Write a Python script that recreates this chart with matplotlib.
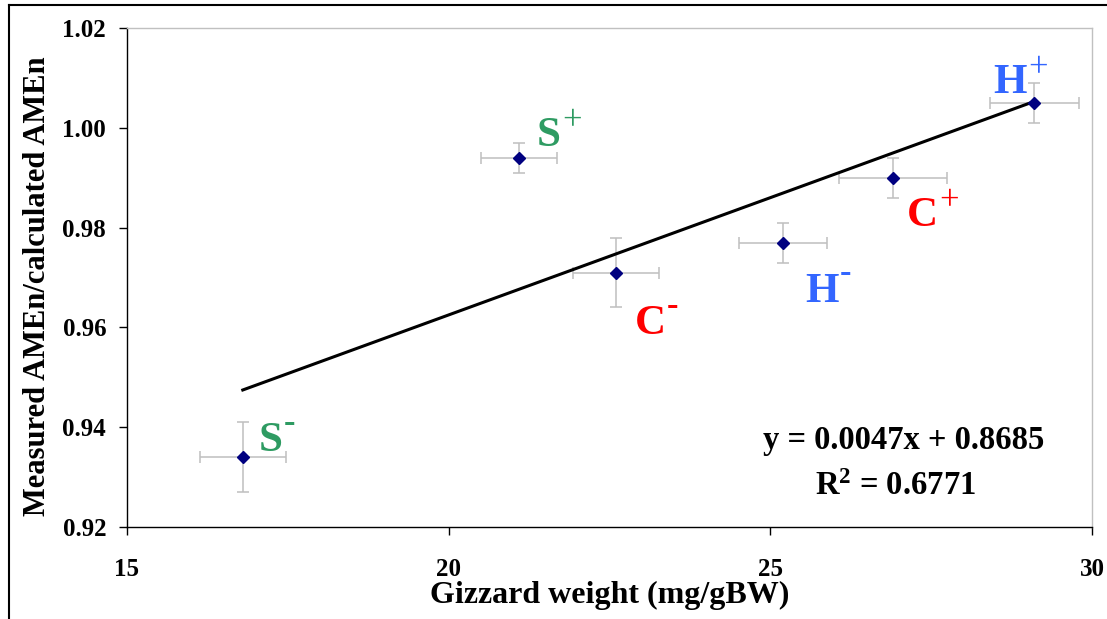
import matplotlib
matplotlib.use("Agg")
import matplotlib.pyplot as plt
from matplotlib.lines import Line2D
import numpy as np

# data
groups = ["S-", "S+", "C-", "H-", "C+", "H+"]
gizzard = [16.8, 21.1, 22.6, 25.2, 26.9, 29.1]
gizzard_err = [0.67, 0.59, 0.67, 0.68, 0.84, 0.69]
ratio = [0.934, 0.994, 0.971, 0.977, 0.990, 1.005]
ratio_err = [0.007, 0.003, 0.007, 0.004, 0.004, 0.004]
slope, intercept, r2 = 0.0047, 0.8685, 0.6771

xticks = [15, 20, 25, 30]
yticks = [0.92, 0.94, 0.96, 0.98, 1.00, 1.02]

# label colour / offset of the baseline in points for each group
label_color = ["#2E9B62", "#2E9B62", "#FF0000", "#3366FF", "#FF0000", "#3366FF"]
label_offset = [(11.5, 4.3), (12.5, 8.6), (13.5, -44.5), (15.5, -42.5), (10.5, -35), (-29.5, 7.2)]

plt.rcParams["font.family"] = "Liberation Serif"
plt.rcParams["font.weight"] = "bold"
plt.rcParams["mathtext.fontset"] = "custom"
plt.rcParams["mathtext.rm"] = "Liberation Serif:bold"
plt.rcParams["mathtext.it"] = "Liberation Serif:bold"
plt.rcParams["mathtext.bf"] = "Liberation Serif:bold"

fig = plt.figure(figsize=(11.07, 6.19), dpi=100)
ax = fig.add_axes([0.1147, 0.1486, 0.8718, 0.8062])

ax.errorbar(gizzard, ratio, xerr=gizzard_err, yerr=ratio_err, fmt="none",
            ecolor="#BFBFBF", elinewidth=1.1, capsize=4, capthick=1.1, zorder=2)
ax.plot(gizzard, ratio, "D", color="#000080", markersize=6.5, zorder=4)

# trend line over the data range
xl = np.array([min(gizzard), max(gizzard)])
ax.plot(xl, slope * xl + intercept, color="black", lw=2.2, zorder=3)

ax.text(0.805, 0.174, f"y = {slope}x + {intercept}", transform=ax.transAxes,
        ha="center", va="center", fontsize=23.5, fontweight="bold")
ax.text(0.796, 0.082, r"R$^{2}$ = " + f"{r2}", transform=ax.transAxes,
        ha="center", va="center", fontsize=23.5, fontweight="bold")

ax.set_xlim(15, 30)
ax.set_ylim(0.92, 1.02)
ax.set_xticks(xticks)
ax.set_yticks(yticks)
ax.set_yticklabels([f"{v:.2f}" for v in yticks])
ax.tick_params(axis="x", direction="out", length=6, width=1, pad=16, labelsize=18)
ax.tick_params(axis="y", direction="out", length=6, width=1, pad=9, labelsize=18)
for lab in ax.get_xticklabels() + ax.get_yticklabels():
    lab.set_fontweight("bold")

ax.spines["left"].set_color("black")
ax.spines["bottom"].set_color("black")
ax.spines["top"].set_color("#C0C0C0")
ax.spines["right"].set_color("#C0C0C0")
for s in ax.spines.values():
    s.set_linewidth(1)

ax.set_xlabel("Gizzard weight (mg/gBW)", fontsize=23, fontweight="bold")
ax.set_ylabel("Measured AMEn/calculated AMEn", fontsize=22, fontweight="bold")
ax.xaxis.set_label_coords(0.5, -0.108)
ax.yaxis.set_label_coords(-0.093, 0.483)
ax.yaxis.label.set_va("center")

# group labels: big letter, then a small +/- after it
mains = []
for x, y, g, c, off in zip(gizzard, ratio, groups, label_color, label_offset):
    t = ax.annotate(g[0], (x, y), xytext=off, textcoords="offset points",
                    fontsize=31, color=c, ha="left", va="baseline")
    mains.append(t)

fig.canvas.draw()
renderer = fig.canvas.get_renderer()
for t, x, y, g, c, off in zip(mains, gizzard, ratio, groups, label_color, label_offset):
    w = t.get_window_extent(renderer).width * 72 / fig.dpi
    minus = g[1] == "-"
    ax.annotate("-" if minus else "+", (x, y),
                xytext=(off[0] + w + 1, off[1] + (14 if minus else 11.5)),
                textcoords="offset points",
                fontsize=25, fontweight="bold" if minus else "normal",
                color=c, ha="left", va="baseline")

# outer frame (top and left only, as in the source image)
fig.add_artist(Line2D([0.008, 1.0], [0.992, 0.992], color="black", lw=1.5))
fig.add_artist(Line2D([0.008, 0.008], [0.0, 0.992], color="black", lw=1.5))

fig.savefig("out.png", dpi=100)
